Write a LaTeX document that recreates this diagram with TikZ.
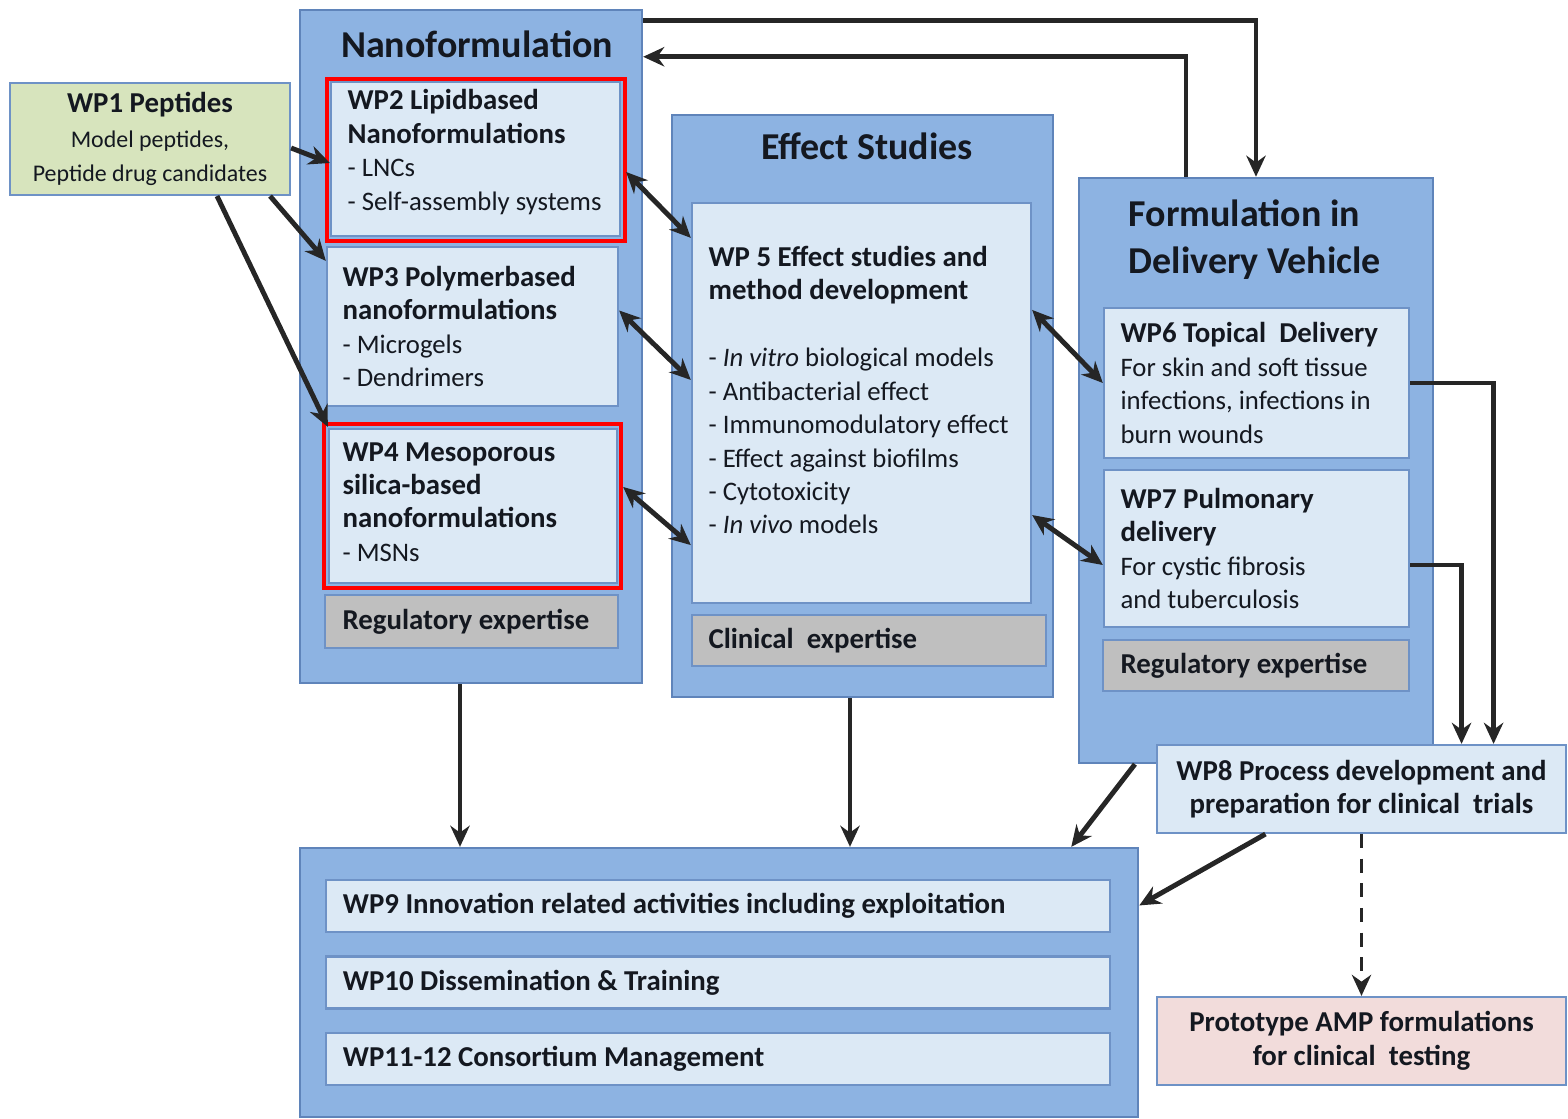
\documentclass[tikz,border=0pt]{standalone}
\usepackage{fontspec}
\setmainfont{Carlito}
\usepackage{xcolor}
\usetikzlibrary{arrows.meta,positioning,calc}

\definecolor{outerblue}{HTML}{8DB3E2}
\definecolor{outeredge}{HTML}{5F84BA}
\definecolor{innerblue}{HTML}{DCE9F5}
\definecolor{inneredge}{HTML}{6E92C6}
\definecolor{greybox}{HTML}{BFBFBF}
\definecolor{peptgreen}{HTML}{D7E4BD}
\definecolor{protopink}{HTML}{F2DCDB}
\definecolor{arrowdark}{HTML}{262626}
\definecolor{txtdark}{HTML}{141820}

\newcommand{\wphead}[1]{{\fontsize{8.2pt}{9.6pt}\selectfont\bfseries #1}}
\newcommand{\wpsmall}[1]{{\fontsize{6.8pt}{8.4pt}\selectfont #1}}

\tikzset{
  outerbox/.style={draw=outeredge, fill=outerblue, line width=0.6pt},
  inbox/.style={draw=inneredge, fill=innerblue, line width=0.6pt},
  expbox/.style={draw=inneredge, fill=greybox, line width=0.6pt},
  wptext/.style={font=\fontsize{7.6pt}{9.5pt}\selectfont, align=left, text=txtdark, inner sep=0.04cm},
  headtxt/.style={font=\fontsize{10.8pt}{13.4pt}\selectfont\bfseries, text=txtdark, inner sep=0pt},
  flow/.style={draw=arrowdark, line width=1.4pt, -{Stealth[length=6pt,width=5.5pt]}},
  twoway/.style={flow, {Stealth[length=6pt,width=5.5pt]}-{Stealth[length=6pt,width=5.5pt]}},
  hilite/.style={draw=red, line width=1.2pt}
}

\begin{document}
\begin{tikzpicture}[x=0.01cm, y=-0.01cm]
  \useasboundingbox (0,0) rectangle (1568,1119);

  \node[draw=inneredge, fill=peptgreen, line width=0.6pt, minimum width=2.8cm, minimum height=1.12cm,
        wptext, align=center] (wp1) at (150,139)
        {\wphead{WP1 Peptides}\\[0.5pt]\wpsmall{Model peptides,}\\\wpsmall{Peptide drug candidates}};

  \node[outerbox, minimum width=3.42cm, minimum height=6.73cm] (nano) at (471,346.5) {};
  \node[headtxt] (nanotitle) at (477,44) {Nanoformulation};
  \node[inbox, minimum width=2.89cm, minimum height=1.54cm] (wp2) at (475.5,159) {};
  \node[wptext, right=0.13cm of wp2.west, yshift=0.07cm] (twp2)
        {\wphead{WP2 Lipidbased}\\\wphead{Nanoformulations}\\- LNCs\\- Self-assembly systems};
  \draw[hilite] ([shift={(-0.03cm,0.02cm)}]wp2.north west) rectangle ([shift={(0.04cm,-0.04cm)}]wp2.south east);
  \node[inbox, minimum width=2.91cm, minimum height=1.59cm] (wp3) at (472.5,326.5) {};
  \node[wptext, right=0.12cm of wp3.west] (twp3)
        {\wphead{WP3 Polymerbased}\\\wphead{nanoformulations}\\- Microgels\\- Dendrimers};
  \node[inbox, minimum width=2.88cm, minimum height=1.54cm] (wp4) at (473,506) {};
  \node[wptext, right=0.10cm of wp4.west, yshift=0.04cm] (twp4)
        {\wphead{WP4 Mesoporous}\\\wphead{silica-based}\\\wphead{nanoformulations}\\- MSNs};
  \draw[hilite] ([shift={(-0.04cm,0.04cm)}]wp4.north west) rectangle ([shift={(0.03cm,-0.04cm)}]wp4.south east);
  \node[expbox, minimum width=2.93cm, minimum height=0.53cm] (reg1) at (471.5,621.5) {};
  \node[wptext, right=0.14cm of reg1.west] (treg1) {\wphead{Regulatory expertise}};

  \node[outerbox, minimum width=3.81cm, minimum height=5.82cm] (effect) at (862.5,406) {};
  \node[headtxt] (efftitle) at (867,146) {Effect Studies};
  \node[inbox, minimum width=3.39cm, minimum height=4cm] (wp5) at (861.5,403) {};
  \node[wptext, right=0.13cm of wp5.west, yshift=0.13cm] (twp5)
        {\wphead{WP 5 Effect studies and}\\\wphead{method development}\\[0.34cm]- \textit{In vitro} biological models\\- Antibacterial effect\\- Immunomodulatory effect\\- Effect against biofilms\\- Cytotoxicity\\- \textit{In vivo} models};
  \node[expbox, minimum width=3.54cm, minimum height=0.51cm] (clin) at (869,640.5) {};
  \node[wptext, right=0.13cm of clin.west] (tclin) {\wphead{Clinical~ expertise}};

  \node[outerbox, minimum width=3.54cm, minimum height=5.85cm] (form) at (1256,470.5) {};
  \node[headtxt, align=left, anchor=west] (formtitle) at (1128,240) {Formulation in\\Delivery Vehicle};
  \node[inbox, minimum width=3.05cm, minimum height=1.5cm] (wp6) at (1256.5,383) {};
  \node[wptext, right=0.13cm of wp6.west] (twp6)
        {\wphead{WP6 Topical~ Delivery}\\For skin and soft tissue\\infections, infections in\\burn wounds};
  \node[inbox, minimum width=3.05cm, minimum height=1.57cm] (wp7) at (1256.5,548.5) {};
  \node[wptext, right=0.13cm of wp7.west] (twp7)
        {\wphead{WP7 Pulmonary}\\\wphead{delivery}\\For cystic fibrosis\\and tuberculosis};
  \node[expbox, minimum width=3.06cm, minimum height=0.51cm] (reg2) at (1256,665.5) {};
  \node[wptext, right=0.14cm of reg2.west] (treg2) {\wphead{Regulatory expertise}};

  \node[inbox, wptext, align=center, minimum width=4.09cm, minimum height=0.88cm] (wp8) at (1361.5,789)
        {\wphead{WP8 Process development and}\\\wphead{preparation for clinical~ trials}};
  \node[draw=inneredge, fill=protopink, line width=0.6pt, wptext, align=center,
        minimum width=4.09cm, minimum height=0.88cm] (proto) at (1361.5,1041)
        {\wphead{Prototype AMP formulations}\\\wphead{for clinical~ testing}};

  \node[outerbox, minimum width=8.38cm, minimum height=2.69cm] (bottom) at (719,982.5) {};
  \foreach \id/\yy/\lbl in {wp9/906/{WP9 Innovation related activities including exploitation},
                            wp10/982.5/{WP10 Dissemination \& Training},
                            wp11/1059/{WP11-12 Consortium Management}} {
    \node[inbox, minimum width=7.83cm, minimum height=0.52cm] (\id) at (718,\yy) {};
    \node[wptext, right=0.13cm of \id.west] (t\id) {\wphead{\lbl}};
  }

  \draw[flow] ([yshift=-0.09cm]wp1.east) -- ([yshift=-0.04cm]wp2.west);
  \draw[flow] ([xshift=1.2cm]wp1.south) -- ([yshift=-0.15cm]wp3.north west);
  \draw[flow] ([xshift=0.67cm]wp1.south) -- ([yshift=0.01cm]wp4.north west);

  \draw[twoway] ([shift={(0.05cm,-0.13cm)}]wp2.east) -- ([yshift=1.65cm]wp5.west);
  \draw[twoway] ([yshift=0.16cm]wp3.east) -- ([yshift=0.23cm]wp5.west);
  \draw[twoway] ([shift={(0.05cm,0.19cm)}]wp4.east) -- ([yshift=-1.42cm]wp5.west);
  \draw[twoway] ([yshift=0.93cm]wp5.east) -- (wp6.west);
  \draw[twoway] ([yshift=-1.12cm]wp5.east) -- ([yshift=-0.165cm]wp7.west);

  \draw[flow] ([yshift=-0.12cm]nano.north east) -| (form.north);
  \draw[flow] ([xshift=-0.7cm]form.north) |- ([yshift=-0.48cm]nano.north east);
  \draw[flow] (wp6.east) -| ([xshift=1.32cm]wp8.north);
  \draw[flow] ([yshift=-0.165cm]wp7.east) -| ([xshift=1cm]wp8.north);

  \draw[flow] ([xshift=-0.11cm]nano.south) -- ([xshift=-0.11cm]nano.south |- bottom.north);
  \draw[flow] ([xshift=-0.125cm]effect.south) -- ([xshift=-0.125cm]effect.south |- bottom.north);
  \draw[flow] ([xshift=-1.21cm]form.south) -- ([xshift=-0.68cm]bottom.north east);
  \draw[flow] ([xshift=-0.96cm]wp8.south) -- ([yshift=0.77cm]bottom.east);
  \draw[flow, line width=0.9pt, dash pattern=on 4pt off 3pt] (wp8.south) -- (proto.north);
\end{tikzpicture}
\end{document}
